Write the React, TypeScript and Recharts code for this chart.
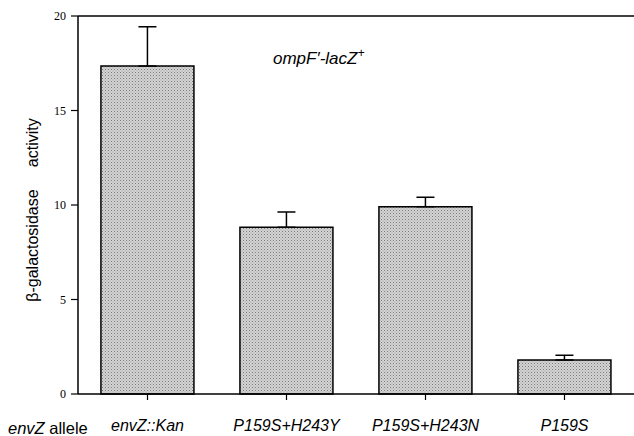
import { BarChart, Bar, XAxis, YAxis, ErrorBar, ReferenceLine, Label } from 'recharts';

const categories = ['envZ::Kan', 'P159S+H243Y', 'P159S+H243N', 'P159S'];
const activity = [17.35, 8.82, 9.91, 1.8];
const errUpper = [2.08, 0.81, 0.5, 0.25];
const yTicks = [0, 5, 10, 15, 20];

const data = categories.map((name, i) => ({
  name,
  value: activity[i],
  err: [0, errUpper[i]],
}));

const sans = '"Liberation Sans", Arial, sans-serif';
const serif = '"Liberation Serif", "Times New Roman", serif';

function YLabel() {
  const cx = 32;
  const cy = 210;
  return (
    <text
      x={cx}
      y={cy}
      transform={`rotate(-90 ${cx} ${cy})`}
      textAnchor="middle"
      dominantBaseline="central"
      fontFamily={sans}
      fontSize={16}
      fill="#000"
      style={{ whiteSpace: 'pre' }}
    >
      {'β-galactosidase     activity'}
    </text>
  );
}

export default function App() {
  return (
    <div style={{ position: 'absolute', left: 0, top: 0, width: 634, height: 436, background: '#fff' }}>
      <BarChart
        width={634}
        height={436}
        data={data}
        margin={{ top: 16, right: 0, left: 38, bottom: 0 }}
        barCategoryGap="16.5%"
      >
        <defs>
          <pattern id="dots" width="3" height="3" patternUnits="userSpaceOnUse">
            <rect width="3" height="3" fill="#d4d4d4" />
            <rect x="0" y="0" width="1" height="1" fill="#7a7a7a" />
            <rect x="1.5" y="1.5" width="1" height="1" fill="#9a9a9a" />
          </pattern>
        </defs>
        <XAxis
          dataKey="name"
          height={42}
          axisLine={{ stroke: '#000', strokeWidth: 1.5 }}
          tickLine={{ stroke: '#000', strokeWidth: 1.2 }}
          tickSize={6}
          tickMargin={20}
          interval={0}
          tick={{ fontFamily: sans, fontStyle: 'italic', fontSize: 16, fill: '#000' }}
        />
        <YAxis
          width={40}
          domain={[0, 20]}
          ticks={yTicks}
          axisLine={{ stroke: '#000', strokeWidth: 1.5 }}
          tickLine={{ stroke: '#000', strokeWidth: 1.2 }}
          tickSize={7}
          tickMargin={5}
          tick={{ fontFamily: serif, fontSize: 12, fill: '#000' }}
        >
          <Label content={<YLabel />} />
        </YAxis>
        <ReferenceLine y={20} stroke="#000" strokeWidth={1.5} />
        <Bar dataKey="value" fill="url(#dots)" stroke="#000" strokeWidth={1.5} isAnimationActive={false}>
          <ErrorBar dataKey="err" width={9} stroke="#000" strokeWidth={1.5} direction="y" />
        </Bar>
        <text x={273} y={64} fontFamily={sans} fontStyle="italic" fontSize={17} fill="#000">
          ompF′-lacZ
          <tspan fontSize={12} dy={-7}>+</tspan>
        </text>
        <text x={8} y={434} fontFamily={sans} fontSize={16.5} fill="#000">
          <tspan fontStyle="italic">envZ</tspan> allele
        </text>
      </BarChart>
    </div>
  );
}
